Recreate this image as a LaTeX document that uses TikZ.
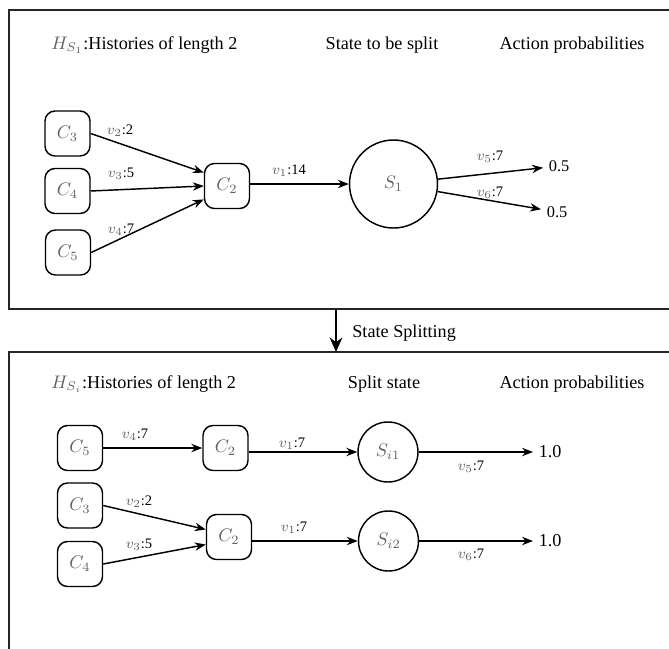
\documentclass[tikz,border=0pt]{standalone}
\usepackage[no-math]{fontspec}
\setmainfont{Liberation Serif}
\usepackage{xcolor}
\usepackage{amsmath}
\usetikzlibrary{arrows.meta,positioning,calc}

\colorlet{mgray}{black!62}
\newcommand{\gm}[1]{\textcolor{mgray}{$#1$}}

\begin{document}
\begin{tikzpicture}[x=0.55pt, y=-0.55pt, >={Stealth[length=6pt,width=4.6pt]},
    hist/.style={draw, line width=0.8pt, rounded corners=5.5pt, minimum size=24.75pt, inner sep=0pt},
    state/.style={draw, circle, line width=0.8pt, inner sep=0pt},
    vlab/.style={font=\footnotesize, inner sep=1pt},
    head/.style={anchor=base, inner sep=0pt},
    prob/.style={anchor=west, inner sep=3pt},
    flow/.style={->, line width=0.8pt},
    frame/.style={line width=1pt, black!85}]
      % Page size
      \useasboundingbox (0,0) rectangle (669,649);

      % Frames (right side runs off the page)
      \draw[frame] (669,10) -- (9,10) -- (9,309) -- (669,309);
      \draw[frame] (669,352) -- (9,352) -- (9,649);

      % Step between the two frames
      \coordinate (fr1) at (336,309);
      \coordinate (fr2) at (336,352);
      \draw[-{Stealth[length=8pt,width=7pt]}, line width=0.8pt] (fr1) -- (fr2);
      \node[anchor=base west, inner sep=0pt] (split) at (352,337) {State Splitting};

      % ---- Before splitting ----
      \node[anchor=base west, inner sep=0pt] (h1) at (51,49) {\gm{H_{S_1}}:Histories of length 2};
      \node[head] (h2) at (382,49) {State to be split};
      \node[head] (h3) at (572,49) {Action probabilities};

      \node[hist] (c3) at (67.5,133.5) {\gm{C_3}};
      \node[hist] (c4) at (67.5,191) {\gm{C_4}};
      \node[hist] (c5) at (68,252.5) {\gm{C_5}};
      \node[hist] (c2) at (227,186) {\gm{C_2}};
      \node[state, minimum size=48.4pt] (s1) at (393.5,184) {\gm{S_1}};
      \node[prob, font=\small] (p1) at (543,166) {0.5};
      \node[prob, font=\small] (p2) at (541,212) {0.5};

      \draw[flow] (c3.east) -- (c2.150);
      \draw[flow] (c4.east) -- (c2.west);
      \draw[flow] (c5.east) -- (c2.210);
      \draw[flow] (c2.east |- s1) -- (s1);
      \draw[flow] (s1) -- (p1);
      \draw[flow] (s1) -- (p2);

      \node[vlab] (l2) at (120,131) {\gm{v_2}:2};
      \node[vlab] (l3) at (121,174) {\gm{v_3}:5};
      \node[vlab] (l4) at (121,230) {\gm{v_4}:7};
      \node[vlab] (l1) at (289,171) {\gm{v_1}:14};
      \node[vlab] (l5) at (490,157) {\gm{v_5}:7};
      \node[vlab] (l6) at (490,193) {\gm{v_6}:7};

      % ---- After splitting ----
      \node[anchor=base west, inner sep=0pt] (g1) at (51,388) {\gm{H_{S_i}}:Histories of length 2};
      \node[head] (g2) at (384,388) {Split state};
      \node[head] (g3) at (572,388) {Action probabilities};

      % first split state
      \node[hist] (d5) at (80,448) {\gm{C_5}};
      \node[hist] (d2) at (225.5,448) {\gm{C_2}};
      \node[state, minimum size=33pt] (si1) at (388,452) {\gm{S_{i1}}};
      \node[prob] (q1) at (533,452) {1.0};

      \draw[flow] (d5) -- (d2);
      \draw[flow] (d2.east |- si1) -- (si1);
      \draw[flow] (si1) -- (q1);

      \node[vlab] (m4) at (135,435) {\gm{v_4}:7};
      \node[vlab] (m1) at (292,444) {\gm{v_1}:7};
      \node[vlab] (m5) at (471,467) {\gm{v_5}:7};

      % second split state
      \node[hist] (d3) at (80,505.5) {\gm{C_3}};
      \node[hist] (d4) at (80,564) {\gm{C_4}};
      \node[hist] (e2) at (229,537) {\gm{C_2}};
      \node[state, minimum size=33pt] (si2) at (388.5,541) {\gm{S_{i2}}};
      \node[prob] (q2) at (533,541) {1.0};

      \draw[flow] (d3.east) -- (e2.162);
      \draw[flow] (d4.east) -- (e2.198);
      \draw[flow] (e2.east |- si2) -- (si2);
      \draw[flow] (si2) -- (q2);

      \node[vlab] (m2) at (139,502) {\gm{v_2}:2};
      \node[vlab] (m3) at (139,545) {\gm{v_3}:5};
      \node[vlab] (n1) at (294,528) {\gm{v_1}:7};
      \node[vlab] (m6) at (471,555) {\gm{v_6}:7};
\end{tikzpicture}
\end{document}
